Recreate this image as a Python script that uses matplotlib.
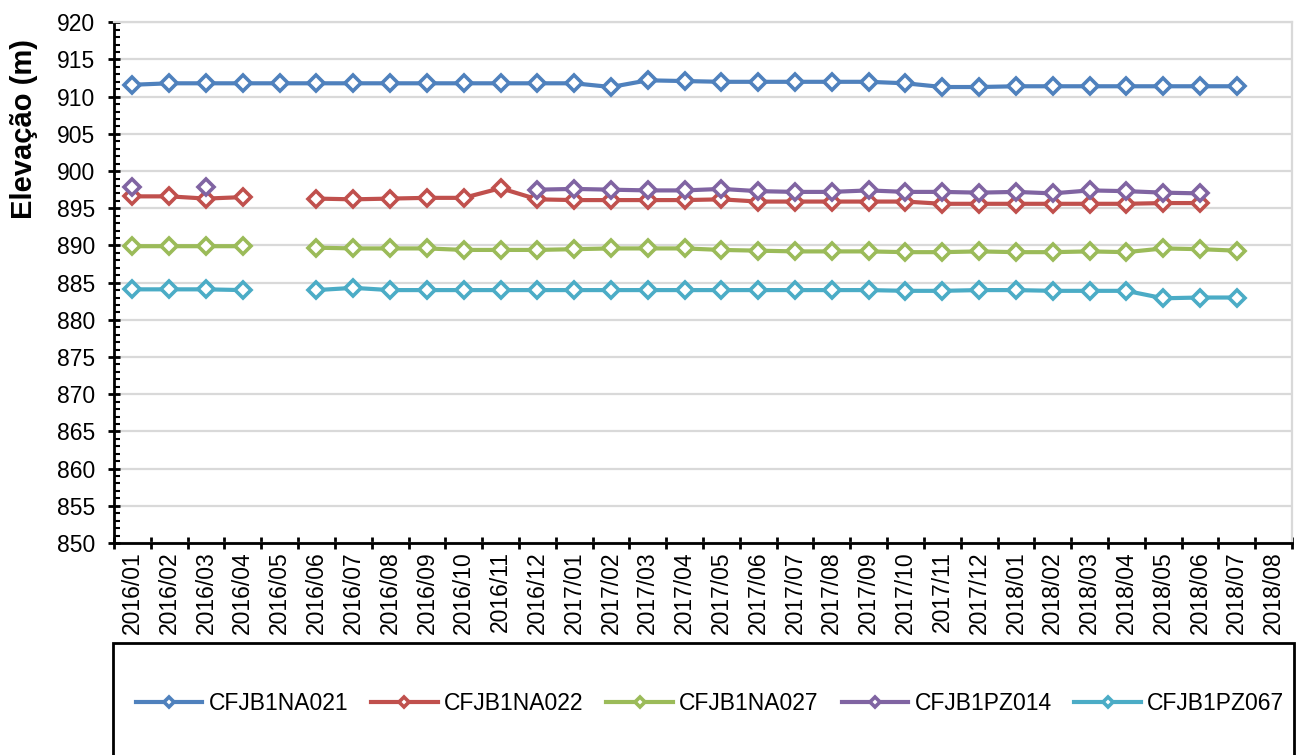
import numpy as np
import matplotlib
matplotlib.use("Agg")
import matplotlib.pyplot as plt
from matplotlib.patches import Rectangle

nan = np.nan

months = ["2016/01", "2016/02", "2016/03", "2016/04", "2016/05", "2016/06",
          "2016/07", "2016/08", "2016/09", "2016/10", "2016/11", "2016/12",
          "2017/01", "2017/02", "2017/03", "2017/04", "2017/05", "2017/06",
          "2017/07", "2017/08", "2017/09", "2017/10", "2017/11", "2017/12",
          "2018/01", "2018/02", "2018/03", "2018/04", "2018/05", "2018/06",
          "2018/07", "2018/08"]

na021 = [911.6, 911.8, 911.8, 911.8, 911.8, 911.8, 911.8, 911.8, 911.8, 911.8,
         911.8, 911.8, 911.8, 911.3, 912.2, 912.1, 912.0, 912.0, 912.0, 912.0,
         912.0, 911.8, 911.3, 911.3, 911.4, 911.4, 911.4, 911.4, 911.4, 911.4,
         911.4, nan]
na022 = [896.6, 896.6, 896.3, 896.5, nan, 896.3, 896.2, 896.3, 896.4, 896.4,
         897.7, 896.2, 896.1, 896.1, 896.1, 896.1, 896.2, 895.9, 895.9, 895.9,
         895.9, 895.9, 895.6, 895.6, 895.6, 895.6, 895.6, 895.6, 895.7, 895.7,
         nan, nan]
na027 = [889.9, 889.9, 889.9, 889.9, nan, 889.7, 889.6, 889.6, 889.6, 889.4,
         889.4, 889.4, 889.5, 889.6, 889.6, 889.6, 889.4, 889.3, 889.2, 889.2,
         889.2, 889.1, 889.1, 889.2, 889.1, 889.1, 889.2, 889.1, 889.6, 889.5,
         889.3, nan]
pz014 = [897.8, nan, 897.8, nan, nan, nan, nan, nan, nan, nan,
         nan, 897.5, 897.6, 897.5, 897.4, 897.4, 897.6, 897.3, 897.2, 897.2,
         897.4, 897.2, 897.2, 897.1, 897.2, 897.0, 897.4, 897.3, 897.1, 897.0,
         nan, nan]
pz067 = [884.1, 884.1, 884.1, 884.0, nan, 884.0, 884.3, 884.0, 884.0, 884.0,
         884.0, 884.0, 884.0, 884.0, 884.0, 884.0, 884.0, 884.0, 884.0, 884.0,
         884.0, 883.9, 883.9, 884.0, 884.0, 883.9, 883.9, 883.9, 882.9, 883.0,
         883.0, nan]

series = [("CFJB1NA021", na021, "#4F81BD"),
          ("CFJB1NA022", na022, "#C0504D"),
          ("CFJB1NA027", na027, "#9BBB59"),
          ("CFJB1PZ014", pz014, "#8064A2"),
          ("CFJB1PZ067", pz067, "#4BACC6")]

plt.rcParams['font.family'] = ['Liberation Sans', 'DejaVu Sans']

W, H = 1303, 755
fig = plt.figure(figsize=(W / 100, H / 100), dpi=100)
ax = fig.add_axes([114 / W, 1 - 543 / H, (1292 - 114) / W, (543 - 22.3) / H])

x = np.arange(len(months))
for name, vals, col in series:
    ax.plot(x, vals, color=col, lw=3, marker="D", ms=8, mew=2.6,
            mfc="white", mec=col, label=name, zorder=3)

ax.set_xlim(-0.5, len(months) - 0.5)
ax.set_ylim(850, 920)
ax.set_yticks(np.arange(850, 921, 5))
ax.set_yticks(np.arange(850, 921, 1), minor=True)
ax.yaxis.grid(True, which="major", color="#D9D9D9", lw=1.6, zorder=0)
ax.tick_params(axis="y", which="major", direction="inout", length=9,
               width=2, labelsize=16.5, pad=9)
ax.tick_params(axis="y", which="minor", direction="in", length=4, width=1.5)

ax.set_xticks(np.arange(-0.5, len(months), 1))
ax.set_xticklabels([])
ax.set_xticks(x, minor=True)
ax.set_xticklabels(months, minor=True, rotation=90, fontsize=16.5)
ax.tick_params(axis="x", which="major", direction="inout", length=8.5, width=2)
ax.tick_params(axis="x", which="minor", length=0, pad=6)

for s in ["left", "bottom"]:
    ax.spines[s].set_linewidth(2)
for s in ["top", "right"]:
    ax.spines[s].set_color("#D9D9D9")
    ax.spines[s].set_linewidth(1.6)

fig.text(24 / W, 1 - 129 / H, "Elevação (m)", rotation=90, fontsize=21,
         fontweight="bold", ha="center", va="center")

fig.patches.append(Rectangle((113 / W, -0.05), (1294 - 113) / W,
                             1 - 643 / H + 0.05, transform=fig.transFigure,
                             fill=False, ec="black", lw=2))
handles, labels = ax.get_legend_handles_labels()
fig.legend(handles, labels, loc="center", bbox_to_anchor=(710 / W, 1 - 704 / H),
           ncol=5, frameon=False, fontsize=16.5, handlelength=2.92,
           handletextpad=0.26, columnspacing=1.0, markerscale=0.7)

fig.savefig("out.png", dpi=100)
